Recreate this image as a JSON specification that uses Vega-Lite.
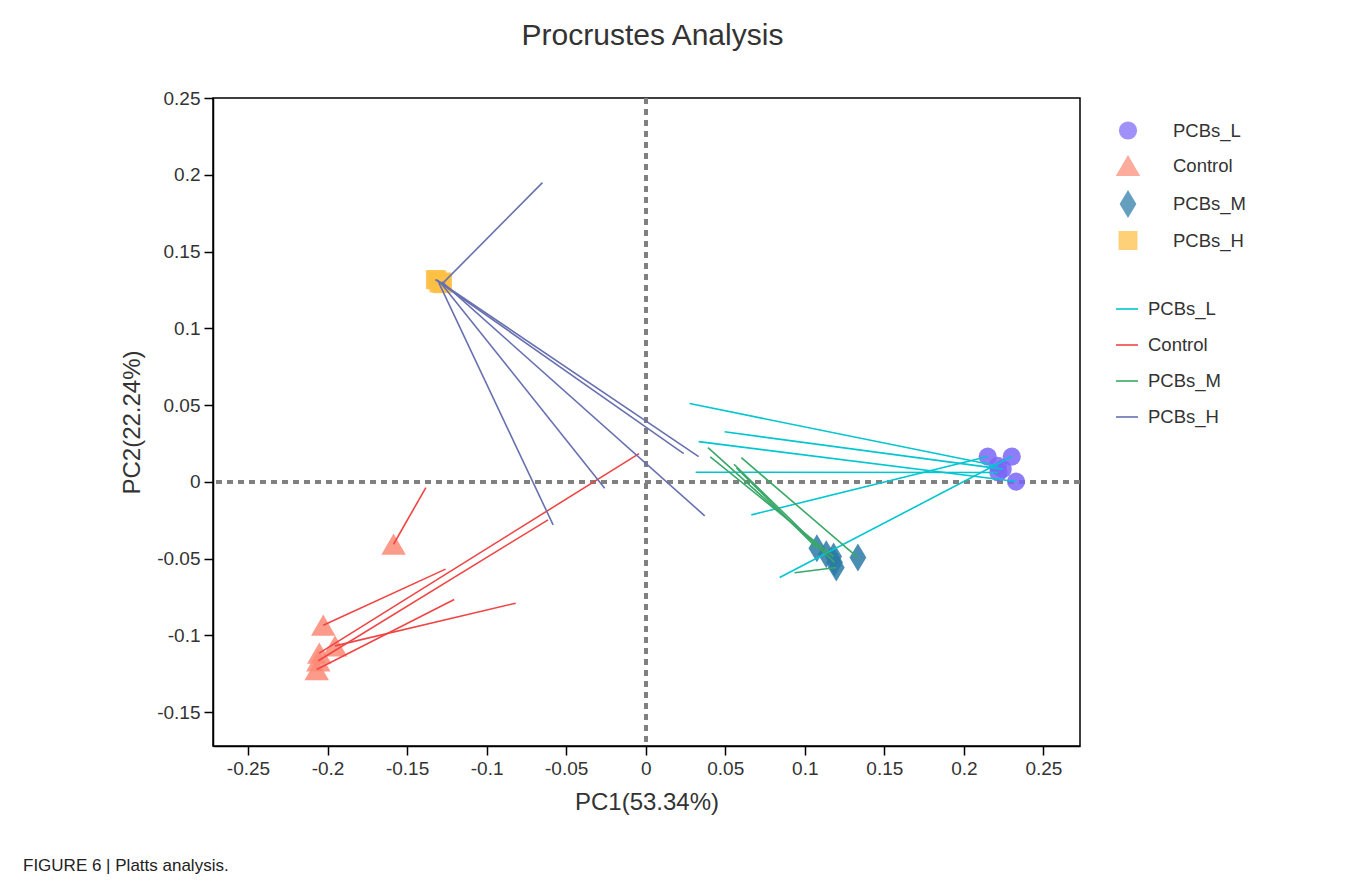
{
  "$schema": "https://vega.github.io/schema/vega-lite/v6.json",
  "padding": {"left": 23, "top": 20, "right": 5, "bottom": 5},
  "background": "white",
  "title": {
    "text": "FIGURE 6 | Platts analysis.",
    "orient": "bottom",
    "anchor": "start",
    "frame": "group",
    "fontSize": 17,
    "fontWeight": "normal",
    "color": "#222",
    "offset": 43,
    "dx": -190
  },
  "datasets": {
    "procrustes": [
      {"group": "PCBs_L", "pc1": 0.2213, "pc2": 0.0104, "pc1_end": 0.0276, "pc2_end": 0.0510},
      {"group": "PCBs_L", "pc1": 0.2244, "pc2": 0.0083, "pc1_end": 0.0496, "pc2_end": 0.0326},
      {"group": "PCBs_L", "pc1": 0.2328, "pc2": 0.0002, "pc1_end": 0.0333, "pc2_end": 0.0262},
      {"group": "PCBs_L", "pc1": 0.2217, "pc2": 0.0061, "pc1_end": 0.0314, "pc2_end": 0.0063},
      {"group": "PCBs_L", "pc1": 0.2150, "pc2": 0.0165, "pc1_end": 0.0664, "pc2_end": -0.0215},
      {"group": "PCBs_L", "pc1": 0.2301, "pc2": 0.0165, "pc1_end": 0.0842, "pc2_end": -0.0623},
      {"group": "Control", "pc1": -0.1585, "pc2": -0.0406, "pc1_end": -0.1382, "pc2_end": -0.0037},
      {"group": "Control", "pc1": -0.2027, "pc2": -0.0933, "pc1_end": -0.1258, "pc2_end": -0.0568},
      {"group": "Control", "pc1": -0.2052, "pc2": -0.1115, "pc1_end": -0.0042, "pc2_end": 0.0184},
      {"group": "Control", "pc1": -0.2058, "pc2": -0.1165, "pc1_end": -0.0614, "pc2_end": -0.0247},
      {"group": "Control", "pc1": -0.2068, "pc2": -0.1222, "pc1_end": -0.1204, "pc2_end": -0.0766},
      {"group": "Control", "pc1": -0.1953, "pc2": -0.1068, "pc1_end": -0.0817, "pc2_end": -0.0790},
      {"group": "PCBs_M", "pc1": 0.1135, "pc2": -0.0471, "pc1_end": 0.0392, "pc2_end": 0.0223},
      {"group": "PCBs_M", "pc1": 0.1181, "pc2": -0.0486, "pc1_end": 0.0406, "pc2_end": 0.0163},
      {"group": "PCBs_M", "pc1": 0.1187, "pc2": -0.0525, "pc1_end": 0.0555, "pc2_end": 0.0115},
      {"group": "PCBs_M", "pc1": 0.1334, "pc2": -0.0493, "pc1_end": 0.0601, "pc2_end": 0.0158},
      {"group": "PCBs_M", "pc1": 0.1198, "pc2": -0.0558, "pc1_end": 0.0936, "pc2_end": -0.0592},
      {"group": "PCBs_M", "pc1": 0.1076, "pc2": -0.0432, "pc1_end": 0.0571, "pc2_end": 0.0091},
      {"group": "PCBs_H", "pc1": -0.1278, "pc2": 0.1291, "pc1_end": -0.0649, "pc2_end": 0.1949},
      {"group": "PCBs_H", "pc1": -0.1322, "pc2": 0.1318, "pc1_end": 0.0239, "pc2_end": 0.0184},
      {"group": "PCBs_H", "pc1": -0.1313, "pc2": 0.1315, "pc1_end": 0.0333, "pc2_end": 0.0165},
      {"group": "PCBs_H", "pc1": -0.1281, "pc2": 0.1302, "pc1_end": 0.0371, "pc2_end": -0.0221},
      {"group": "PCBs_H", "pc1": -0.1288, "pc2": 0.1296, "pc1_end": -0.0258, "pc2_end": -0.0041},
      {"group": "PCBs_H", "pc1": -0.1300, "pc2": 0.1296, "pc1_end": -0.0582, "pc2_end": -0.0280}
    ]
  },
  "vconcat": [
    {
      "width": 867,
      "height": 648,
      "title": {
        "text": "Procrustes Analysis",
        "fontSize": 30,
        "fontWeight": "normal",
        "color": "#333",
        "anchor": "middle",
        "frame": "group",
        "offset": 38,
        "dx": 6
      },
      "data": {"name": "procrustes"},
      "layer": [
        {
          "mark": {"type": "rule", "color": "#808080", "strokeWidth": 3, "strokeDash": [6, 5]},
          "encoding": {"x": {"datum": 0, "type": "quantitative"}}
        },
        {
          "mark": {"type": "rule", "color": "#808080", "strokeWidth": 3, "strokeDash": [6, 5]},
          "encoding": {"y": {"datum": 0, "type": "quantitative"}}
        },
        {
          "mark": {"type": "point", "filled": true, "opacity": 0.85, "strokeWidth": 0},
          "encoding": {
            "x": {
              "field": "pc1", "type": "quantitative",
              "scale": {"domain": [-0.272, 0.273], "nice": false, "zero": false},
              "axis": {
                "title": "PC1(53.34%)",
                "values": [-0.25, -0.2, -0.15, -0.1, -0.05, 0, 0.05, 0.1, 0.15, 0.2, 0.25],
                "labelExpr": "'' + datum.value",
                "titlePadding": 12
              }
            },
            "y": {
              "field": "pc2", "type": "quantitative",
              "scale": {"domain": [-0.172, 0.25], "nice": false, "zero": false},
              "axis": {
                "title": "PC2(22.24%)",
                "values": [-0.15, -0.1, -0.05, 0, 0.05, 0.1, 0.15, 0.2, 0.25],
                "labelExpr": "'' + datum.value",
                "titlePadding": 12
              }
            },
            "fill": {
              "field": "group", "type": "nominal",
              "scale": {
                "domain": ["PCBs_L", "Control", "PCBs_M", "PCBs_H"],
                "range": ["#7a66f7", "#fb8a76", "#2a7aa6", "#fdbf45"]
              },
              "legend": {
                "title": null, "orient": "none", "legendX": 901, "legendY": 23,
                "labelFontSize": 18.5, "labelOffset": 31, "rowPadding": 13, "symbolStrokeWidth": 0
              }
            },
            "shape": {
              "field": "group", "type": "nominal",
              "scale": {
                "domain": ["PCBs_L", "Control", "PCBs_M", "PCBs_H"],
                "range": ["circle", "triangle-up", "M0,-1L0.6,0L0,1L-0.6,0Z", "square"]
              },
              "legend": {
                "title": null, "orient": "none", "legendX": 901, "legendY": 23,
                "labelFontSize": 18.5, "labelOffset": 31, "rowPadding": 13
              }
            },
            "size": {
              "field": "group", "type": "nominal",
              "scale": {
                "type": "ordinal",
                "domain": ["PCBs_L", "Control", "PCBs_M", "PCBs_H"],
                "range": [330, 600, 784, 360]
              },
              "legend": {
                "title": null, "orient": "none", "legendX": 901, "legendY": 23,
                "labelFontSize": 18.5, "labelOffset": 31, "rowPadding": 13
              }
            }
          }
        },
        {
          "mark": {"type": "rule", "strokeWidth": 1.6},
          "encoding": {
            "x": {"field": "pc1", "type": "quantitative"},
            "y": {"field": "pc2", "type": "quantitative"},
            "x2": {"field": "pc1_end"},
            "y2": {"field": "pc2_end"},
            "stroke": {
              "field": "group", "type": "nominal",
              "sort": ["PCBs_L", "Control", "PCBs_M", "PCBs_H"],
              "scale": {"range": ["#00c6d0", "#f04545", "#3aa868", "#6870b0"]},
              "legend": {
                "title": null, "orient": "none", "legendX": 902, "legendY": 199,
                "symbolType": "stroke", "symbolSize": 484, "symbolStrokeWidth": 1.6,
                "labelFontSize": 18.5, "labelOffset": 9, "rowPadding": 14
              }
            }
          }
        }
      ]
    }
  ],
  "config": {
    "font": "Liberation Sans",
    "view": {"stroke": "#000", "strokeWidth": 1.5},
    "axis": {
      "domainColor": "#000", "domainWidth": 1.5,
      "tickColor": "#000", "tickWidth": 1.5, "tickSize": 9,
      "labelFontSize": 19, "labelColor": "#333", "labelPadding": 4,
      "titleFontSize": 24, "titleColor": "#333", "titleFontWeight": "normal",
      "grid": false
    },
    "legend": {"labelColor": "#333", "labelFont": "Liberation Sans"}
  }
}
